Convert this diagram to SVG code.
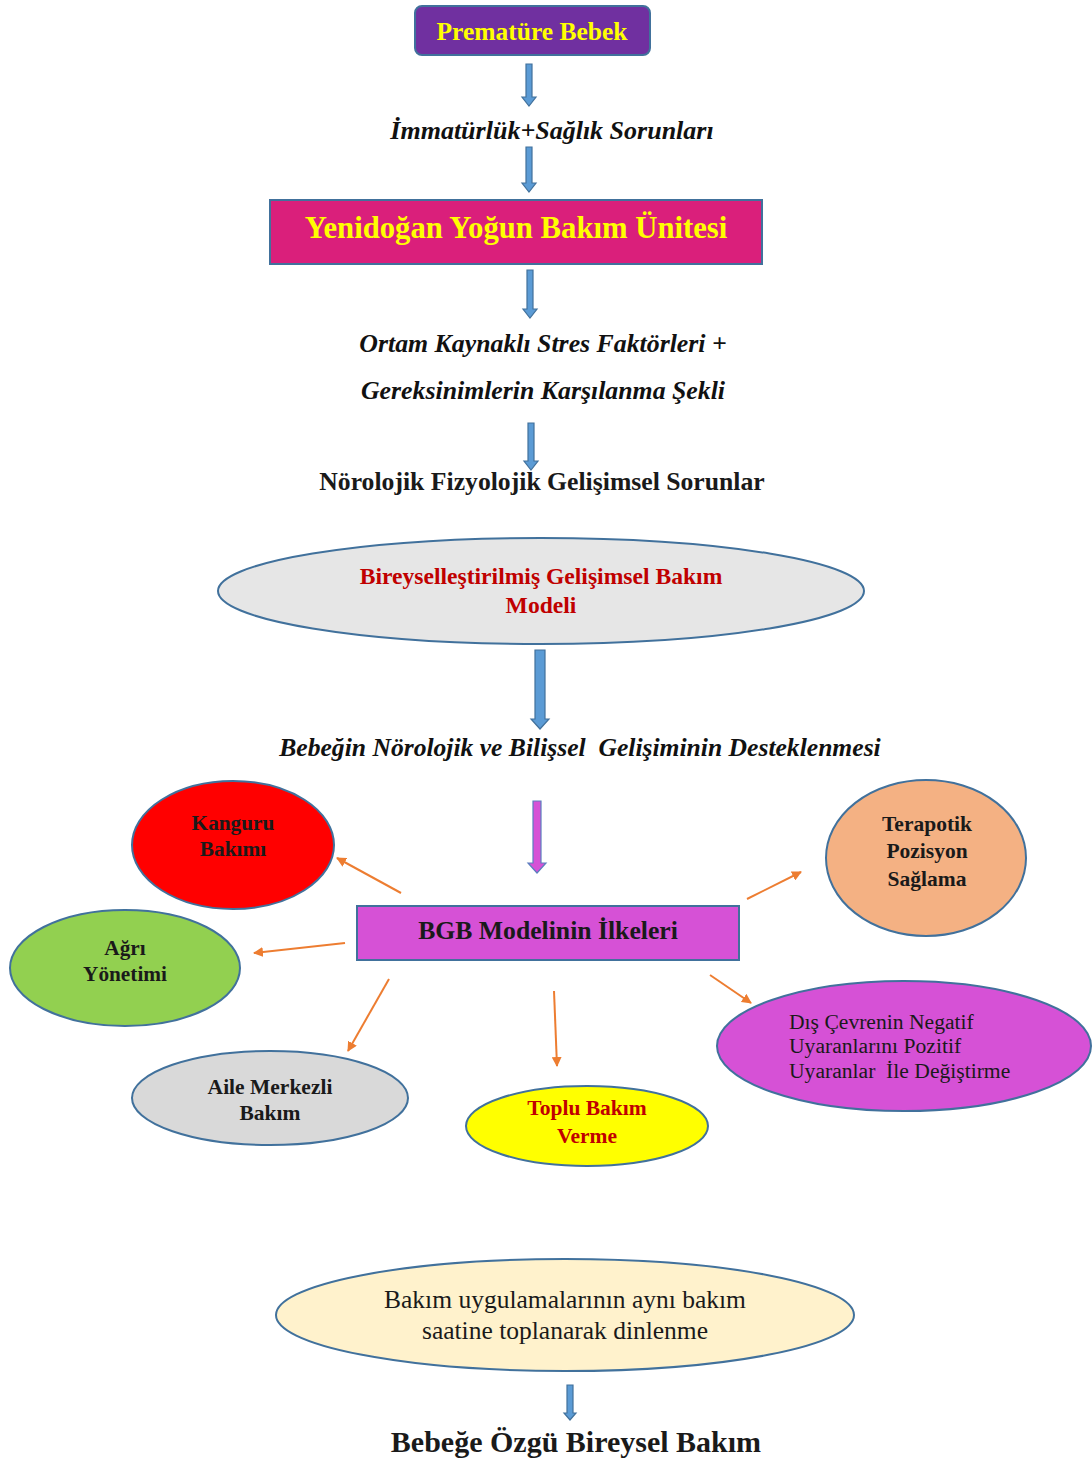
<svg xmlns="http://www.w3.org/2000/svg" width="1092" height="1463" viewBox="0 0 1092 1463">
<style>
text{font-family:"Liberation Serif","Times New Roman",serif;text-anchor:middle}
.b{font-weight:bold}
.bi{font-weight:bold;font-style:italic;fill:#111}
.dk{fill:#1a1a1a}
.yl{fill:#FFFF00}
.rd{fill:#C00000}
.node{stroke:#41719C;stroke-width:2}
.blk{fill:#5B9BD5;stroke:#41719C;stroke-width:1.2}
.pk{fill:#D651D6;stroke:#5B7FBF;stroke-width:1.2}
.or{stroke:#ED7D31;stroke-width:2;fill:none;marker-end:url(#oh)}
.l{text-anchor:start}
</style>
<defs>
<marker id="oh" markerWidth="10" markerHeight="10" refX="9" refY="5" orient="auto" markerUnits="userSpaceOnUse">
<path d="M0,0 L10,5 L0,10 Z" fill="#ED7D31"/>
</marker>
</defs>
<rect width="1092" height="1463" fill="#fff"/>

<g id="connectors">
<path class="blk" d="M526 64 H532 V97 H536 L529 106 L522 97 H526 Z"/>
<path class="blk" d="M526 147 H532 V183 H536 L529 192 L522 183 H526 Z"/>
<path class="blk" d="M527 270 H533 V309 H537 L530 318 L523 309 H527 Z"/>
<path class="blk" d="M528 423 H534 V461 H538 L531 470 L524 461 H528 Z"/>
<path class="blk" d="M535 650 H545 V719 H549 L540 729 L531 719 H535 Z"/>
<path class="pk" d="M533 801 H541 V863 H546 L537 873 L528 863 H533 Z"/>
<path class="blk" d="M567 1385 H573 V1413 H576 L570 1420 L564 1413 H567 Z"/>
<line class="or" x1="401" y1="893" x2="337" y2="858"/>
<line class="or" x1="345" y1="943" x2="254" y2="953"/>
<line class="or" x1="389" y1="979" x2="348" y2="1051"/>
<line class="or" x1="554" y1="991" x2="557" y2="1066"/>
<line class="or" x1="747" y1="899" x2="801" y2="872"/>
<line class="or" x1="710" y1="975" x2="751" y2="1003"/>
</g>

<g id="prematur">
<rect class="node" x="415" y="6" width="235" height="49" rx="7" fill="#7030A0"/>
<text class="b yl" x="532" y="40" font-size="25.5">Prematüre Bebek</text>
</g>

<g id="immaturluk">
<text class="bi" x="552" y="139" font-size="26">İmmatürlük+Sağlık Sorunları</text>
</g>

<g id="ybu">
<rect class="node" x="270" y="200" width="492" height="64" fill="#DA1F7B"/>
<text class="b yl" x="516" y="238" font-size="30.7">Yenidoğan Yoğun Bakım Ünitesi</text>
</g>

<g id="ortam">
<text class="bi" x="543" y="352" font-size="25.8">Ortam Kaynaklı Stres Faktörleri +</text>
<text class="bi" x="543" y="399" font-size="25.8">Gereksinimlerin Karşılanma Şekli</text>
</g>

<g id="norolojik">
<text class="b dk" x="542" y="490" font-size="25.7">Nörolojik Fizyolojik Gelişimsel Sorunlar</text>
</g>

<g id="bgb-model">
<ellipse class="node" cx="541" cy="591" rx="323" ry="53" fill="#E6E6E6"/>
<text class="b rd" x="541" y="584" font-size="23.6">Bireyselleştirilmiş Gelişimsel Bakım</text>
<text class="b rd" x="541" y="613" font-size="23.6">Modeli</text>
</g>

<g id="bebegin">
<text class="bi" x="580" y="756" font-size="25.6" xml:space="preserve">Bebeğin Nörolojik ve Bilişsel  Gelişiminin Desteklenmesi</text>
</g>

<g id="kanguru">
<ellipse class="node" cx="233" cy="845" rx="101" ry="64" fill="#FF0000"/>
<text class="b dk" x="233" y="830" font-size="21.3">Kanguru</text>
<text class="b dk" x="233" y="856" font-size="21.3">Bakımı</text>
</g>

<g id="agri">
<ellipse class="node" cx="125" cy="968" rx="115" ry="58" fill="#92D050"/>
<text class="b dk" x="125" y="955" font-size="21.3">Ağrı</text>
<text class="b dk" x="125" y="981" font-size="21.3">Yönetimi</text>
</g>

<g id="bgb-ilkeleri">
<rect class="node" x="357" y="906" width="382" height="54" fill="#D651D6"/>
<text class="b dk" x="548" y="939" font-size="25.7">BGB Modelinin İlkeleri</text>
</g>

<g id="terapotik">
<ellipse class="node" cx="926" cy="858" rx="100" ry="78" fill="#F4B183"/>
<text class="b dk" x="927" y="831" font-size="21.5">Terapotik</text>
<text class="b dk" x="927" y="858" font-size="21.5">Pozisyon</text>
<text class="b dk" x="927" y="886" font-size="21.5">Sağlama</text>
</g>

<g id="dis-cevre">
<ellipse class="node" cx="904" cy="1046" rx="187" ry="65" fill="#D651D6"/>
<text class="dk l" x="789" y="1029" font-size="21.6">Dış Çevrenin Negatif</text>
<text class="dk l" x="789" y="1053" font-size="21.6">Uyaranlarını Pozitif</text>
<text class="dk l" x="789" y="1078" font-size="21.6" xml:space="preserve">Uyaranlar  İle Değiştirme</text>
</g>

<g id="aile">
<ellipse class="node" cx="270" cy="1098" rx="138" ry="47" fill="#D9D9D9"/>
<text class="b dk" x="270" y="1094" font-size="21.5">Aile Merkezli</text>
<text class="b dk" x="270" y="1120" font-size="21.5">Bakım</text>
</g>

<g id="toplu">
<ellipse class="node" cx="587" cy="1126" rx="121" ry="40" fill="#FFFF00"/>
<text class="b rd" x="587" y="1115" font-size="21.5">Toplu Bakım</text>
<text class="b rd" x="587" y="1143" font-size="21.5">Verme</text>
</g>

<g id="bakim-uyg">
<ellipse class="node" cx="565" cy="1315" rx="289" ry="56" fill="#FFF2CC"/>
<text class="dk" x="565" y="1308" font-size="25.5">Bakım uygulamalarının aynı bakım</text>
<text class="dk" x="565" y="1339" font-size="25.5">saatine toplanarak dinlenme</text>
</g>

<g id="bebege-ozgu">
<text class="b dk" x="576" y="1452" font-size="30">Bebeğe Özgü Bireysel Bakım</text>
</g>
</svg>
